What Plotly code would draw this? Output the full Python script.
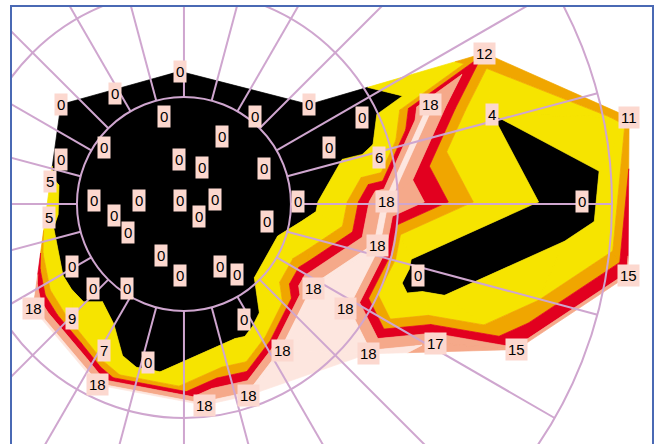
import numpy as np
import plotly.graph_objects as go

# ---- data: test locations (degrees of visual field) and measured values ----
loc_x = [-0.4, -6.4, -11.5, -1.9, 6.6, 11.7, 3.6, -7.5, -11.5, -0.5,
         1.7, 7.5, -12.5, -8.4, -4.2, -0.4, 2.9, 10.7, -6.5, 1.4,
         7.8, -12.6, 28.1, 23.0, 28.8, 41.6, 16.6, 18.2, 18.9, 37.2,
         13.6, -5.2, -2.1, -10.5, -0.4, 3.4, 5.0, -8.5, -5.3, 12.1,
         18.1, 21.9, -14.1, -10.5, -7.5, -3.4, -8.1, 1.9, 6.0, 5.6,
         9.2, 15.1, 17.2, 23.5, 31.1, 41.5]
loc_y = [12.4, 10.3, 9.3, 8.2, 8.2, 9.3, 6.3, 5.3, 4.2, 4.2,
         3.4, 3.3, 2.1, 0.3, 0.3, 0.3, 0.4, 0.2, -1.1, -1.2,
         -1.6, -1.3, 14.1, 9.3, 8.4, 8.1, 8.1, 4.3, 0.2, 0.2,
         5.3, -2.7, -4.8, -5.8, -6.7, -5.8, -6.6, -7.9, -7.9, -7.9,
         -3.9, -6.7, -9.8, -10.7, -13.7, -14.8, -16.9, -18.8, -17.9, -10.8,
         -13.7, -9.8, -14.0, -13.0, -13.6, -6.7]
values = [0, 0, 0, 0, 0, 0, 0, 0, 0, 0,
          0, 0, 5, 0, 0, 0, 0, 0, 0, 0,
          0, 5, 12, 18, 4, 11, 0, 6, 18, 0,
          0, 0, 0, 0, 0, 0, 0, 0, 0, 18,
          18, 0, 18, 9, 7, 0, 18, 18, 18, 0,
          18, 18, 18, 17, 15, 15]

# mesh edges between locations that the map joins (indices into the lists above)
joined_pairs = [(23, 28), (28, 29), (43, 38)]

band_edges = [4.0, 10.0, 12.3, 14.5, 17.2]
band_colors = ["#000000", "#F6E400", "#F0A600", "#E2001F", "#F5A98A", "#FDE6DF"]
circle_radii = [10, 20, 40]
spoke_angles = list(range(0, 360, 15))
spoke_from, spoke_to = 10, 40
max_edge = 20.0

GRID = "#CFA6CF"
FRAME = "#4A69B4"
LABEL_BG = "#FCD8CF"

P = list(zip(loc_x, loc_y))


def delaunay(pts):
    n = len(pts)
    px = [p[0] for p in pts]
    py = [p[1] for p in pts]
    minx, maxx, miny, maxy = min(px), max(px), min(py), max(py)
    d = max(maxx - minx, maxy - miny) * 20
    cx, cy = (minx + maxx) / 2, (miny + maxy) / 2
    allp = pts + [(cx - 2 * d, cy - d), (cx + 2 * d, cy - d), (cx, cy + 2 * d)]

    def circ(t):
        (ax, ay), (bx, by), (qx, qy) = allp[t[0]], allp[t[1]], allp[t[2]]
        D = 2 * (ax * (by - qy) + bx * (qy - ay) + qx * (ay - by))
        ux = ((ax * ax + ay * ay) * (by - qy) + (bx * bx + by * by) * (qy - ay) + (qx * qx + qy * qy) * (ay - by)) / D
        uy = ((ax * ax + ay * ay) * (qx - bx) + (bx * bx + by * by) * (ax - qx) + (qx * qx + qy * qy) * (bx - ax)) / D
        return ux, uy, (ax - ux) ** 2 + (ay - uy) ** 2

    tris = [(n, n + 1, n + 2)]
    for i, (x, y) in enumerate(pts):
        bad = []
        for t in tris:
            ux, uy, r2 = circ(t)
            if (x - ux) ** 2 + (y - uy) ** 2 < r2:
                bad.append(t)
        cnt = {}
        for t in bad:
            for e in ((t[0], t[1]), (t[1], t[2]), (t[2], t[0])):
                k = tuple(sorted(e))
                cnt[k] = cnt.get(k, 0) + 1
        tris = [t for t in tris if t not in bad]
        for (a, b), c in cnt.items():
            if c == 1:
                tris.append((a, b, i))
    return [t for t in tris if max(t) < n]


def orient(a, b, c):
    return (b[0] - a[0]) * (c[1] - a[1]) - (b[1] - a[1]) * (c[0] - a[0])


def cross(a, b, c, d):
    return (orient(a, b, c) * orient(a, b, d) < 0) and (orient(c, d, a) * orient(c, d, b) < 0)


def force_edge(tris, a, b):
    for _ in range(60):
        if any(a in t and b in t for t in tris):
            return tris
        emap = {}
        for k, t in enumerate(tris):
            for e in ((t[0], t[1]), (t[1], t[2]), (t[2], t[0])):
                emap.setdefault(tuple(sorted(e)), []).append(k)
        done = False
        for (c, d), lst in emap.items():
            if len(lst) != 2 or c in (a, b) or d in (a, b):
                continue
            if not cross(P[a], P[b], P[c], P[d]):
                continue
            t1, t2 = tris[lst[0]], tris[lst[1]]
            e1 = [v for v in t1 if v not in (c, d)][0]
            e2 = [v for v in t2 if v not in (c, d)][0]
            if not cross(P[e1], P[e2], P[c], P[d]):
                continue
            tris = [t for k, t in enumerate(tris) if k not in lst] + [(e1, e2, c), (e1, e2, d)]
            done = True
            break
        if not done:
            break
    return tris


def clip_half(poly, f):
    out = []
    m = len(poly)
    for k in range(m):
        A, B = poly[k], poly[(k + 1) % m]
        fa, fb = f(A), f(B)
        if fa >= 0:
            out.append(A)
        if (fa >= 0) != (fb >= 0):
            t = fa / (fa - fb)
            out.append(tuple(A[j] + t * (B[j] - A[j]) for j in range(3)))
    return out


def area(poly):
    s = 0.0
    m = len(poly)
    for k in range(m):
        s += poly[k][0] * poly[(k + 1) % m][1] - poly[(k + 1) % m][0] * poly[k][1]
    return abs(s) / 2


tris = delaunay(P)
for a, b in joined_pairs:
    tris = force_edge(tris, a, b)


def elen(a, b):
    return np.hypot(loc_x[a] - loc_x[b], loc_y[a] - loc_y[b])


tris = [t for t in tris if max(elen(t[0], t[1]), elen(t[1], t[2]), elen(t[2], t[0])) <= max_edge]

fig = go.Figure()
for j, col in enumerate(band_colors):
    lo = band_edges[j - 1] if j > 0 else None
    hi = band_edges[j] if j < len(band_edges) else None
    xs, ys = [], []
    for t in tris:
        poly = [(loc_x[i], loc_y[i], values[i]) for i in t]
        if lo is not None:
            poly = clip_half(poly, lambda p: p[2] - lo)
        if len(poly) >= 3 and hi is not None:
            poly = clip_half(poly, lambda p: hi - p[2])
        if len(poly) < 3 or area(poly) < 1e-6:
            continue
        xs += [p[0] for p in poly] + [poly[0][0], None]
        ys += [p[1] for p in poly] + [poly[0][1], None]
    fig.add_trace(go.Scatter(x=xs, y=ys, mode="lines", fill="toself",
                             fillcolor=col, line=dict(color=col, width=0.7),
                             hoverinfo="skip", showlegend=False))

shapes = []
for r in circle_radii:
    shapes.append(dict(type="circle", xref="x", yref="y", x0=-r, y0=-r, x1=r, y1=r,
                       line=dict(color=GRID, width=2), layer="above"))
for a in spoke_angles:
    c, s = np.cos(np.radians(a)), np.sin(np.radians(a))
    shapes.append(dict(type="line", xref="x", yref="y",
                       x0=spoke_from * c, y0=spoke_from * s, x1=spoke_to * c, y1=spoke_to * s,
                       line=dict(color=GRID, width=2), layer="above"))

annotations = []
for x, y, v in zip(loc_x, loc_y, values):
    annotations.append(dict(x=x, y=y, xref="x", yref="y", text=f"{v:g}", showarrow=False,
                            bgcolor=LABEL_BG, borderpad=2,
                            font=dict(family="Liberation Sans, Arial, sans-serif", size=15, color="#000000")))

fig.update_layout(
    width=660, height=444,
    margin=dict(l=12, r=8, t=7, b=0),
    paper_bgcolor="white", plot_bgcolor="white",
    shapes=shapes, annotations=annotations,
    xaxis=dict(range=[-16.07, 43.74], side="top", showgrid=False, zeroline=False,
               showticklabels=False, ticks="", showline=True, linecolor=FRAME, linewidth=2,
               mirror=False, fixedrange=True),
    yaxis=dict(range=[-22.43, 18.41], showgrid=False, zeroline=False,
               showticklabels=False, ticks="", showline=True, linecolor=FRAME, linewidth=2,
               mirror=True, fixedrange=True),
)

fig.write_html("out.html")
